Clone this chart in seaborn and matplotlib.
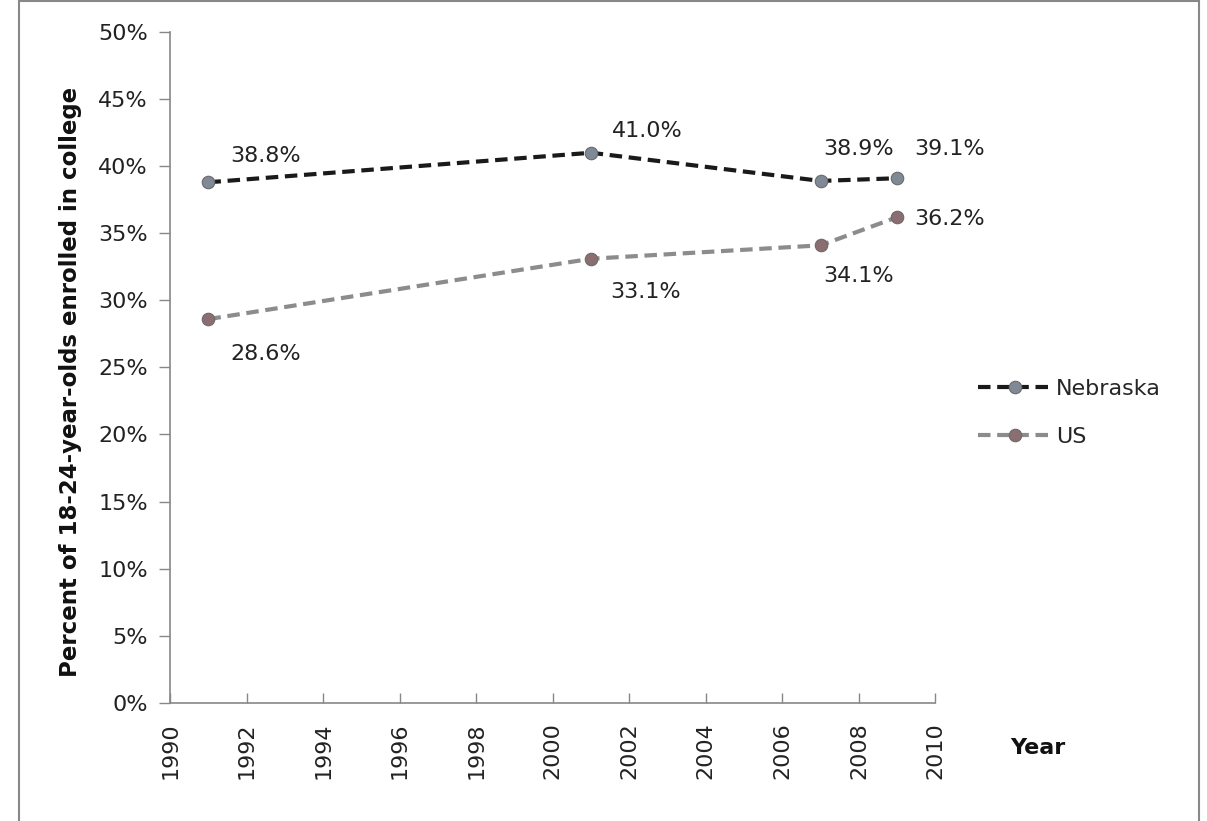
import matplotlib
matplotlib.use("Agg")
import matplotlib.pyplot as plt
import seaborn as sns
import pandas as pd
from matplotlib.patches import Rectangle
from matplotlib.ticker import FuncFormatter, MultipleLocator

years = [1991, 2001, 2007, 2009]
nebraska = [38.8, 41.0, 38.9, 39.1]
us = [28.6, 33.1, 34.1, 36.2]
series_names = ["Nebraska", "US"]

df = pd.DataFrame({
    "Year": years * 2,
    "Percent": nebraska + us,
    "Series": [series_names[0]] * len(years) + [series_names[1]] * len(years),
})

sns.set_theme(style="white")
plt.rcParams["font.family"] = ["DejaVu Sans"]

fig = plt.figure(figsize=(12.07, 8.21), dpi=100)
ax = fig.add_axes([0.141, 0.144, 0.634, 0.817])

line_colors = {"Nebraska": "#1a1a1a", "US": "#8c8c8c"}
marker_colors = {"Nebraska": "#7f8a96", "US": "#8a6e72"}

for name in series_names:
    sub = df[df["Series"] == name]
    sns.lineplot(data=sub, x="Year", y="Percent", ax=ax, color=line_colors[name],
                 linewidth=3, linestyle=(0, (3, 1.6)), marker="o", markersize=9,
                 markerfacecolor=marker_colors[name], markeredgecolor="#6a6a6a",
                 markeredgewidth=0.8, label=name)

# data labels
offsets_neb = [(16, 19), (15, 16), (2, 23), (12, 21)]
offsets_us = [(16, -25), (14, -24), (2, -22), (12, -1)]
fs = 16
for x, y, off in zip(years, nebraska, offsets_neb):
    ax.annotate(f"{y:.1f}%", (x, y), xytext=off, textcoords="offset points",
                fontsize=fs, color="#222222", ha="left", va="center")
for x, y, off in zip(years, us, offsets_us):
    ax.annotate(f"{y:.1f}%", (x, y), xytext=off, textcoords="offset points",
                fontsize=fs, color="#222222", ha="left", va="center")

ax.set_xlim(1990, 2010)
ax.set_ylim(0, 50)
ax.xaxis.set_major_locator(MultipleLocator(2))
ax.yaxis.set_major_locator(MultipleLocator(5))
ax.yaxis.set_major_formatter(FuncFormatter(lambda v, p: f"{v:.0f}%"))
ax.tick_params(axis="x", labelrotation=90, direction="in", length=7, width=1,
               color="#888888", labelsize=fs, labelcolor="#222222", pad=14)
ax.tick_params(axis="y", direction="out", length=8, width=1, color="#888888",
               labelsize=fs, labelcolor="#222222", pad=8)
ax.tick_params(bottom=True, left=True)

for side in ["top", "right"]:
    ax.spines[side].set_visible(False)
for side in ["left", "bottom"]:
    ax.spines[side].set_color("#888888")
    ax.spines[side].set_linewidth(1.2)

ax.set_xlabel("")
ax.set_ylabel("Percent of 18-24-year-olds enrolled in college", fontsize=16.5,
              fontweight="bold", color="#111111")
ax.yaxis.set_label_coords(-0.115, 0.478)
fig.text(1010 / 1207, 1 - 748 / 821, "Year", fontsize=16, fontweight="bold",
         color="#111111", ha="left", va="center")

leg = ax.legend(loc="center left", bbox_to_anchor=(1.03, 0.432), frameon=False,
                fontsize=fs, handlelength=3.3, handletextpad=0.2, labelspacing=1.25)

fig.patches.append(Rectangle((19 / 1207, -0.05), (1199 - 19) / 1207, 1.05 - 1 / 821,
                             transform=fig.transFigure, fill=False,
                             edgecolor="#888888", linewidth=1.5))

fig.savefig("out.png", dpi=100, facecolor="white")
